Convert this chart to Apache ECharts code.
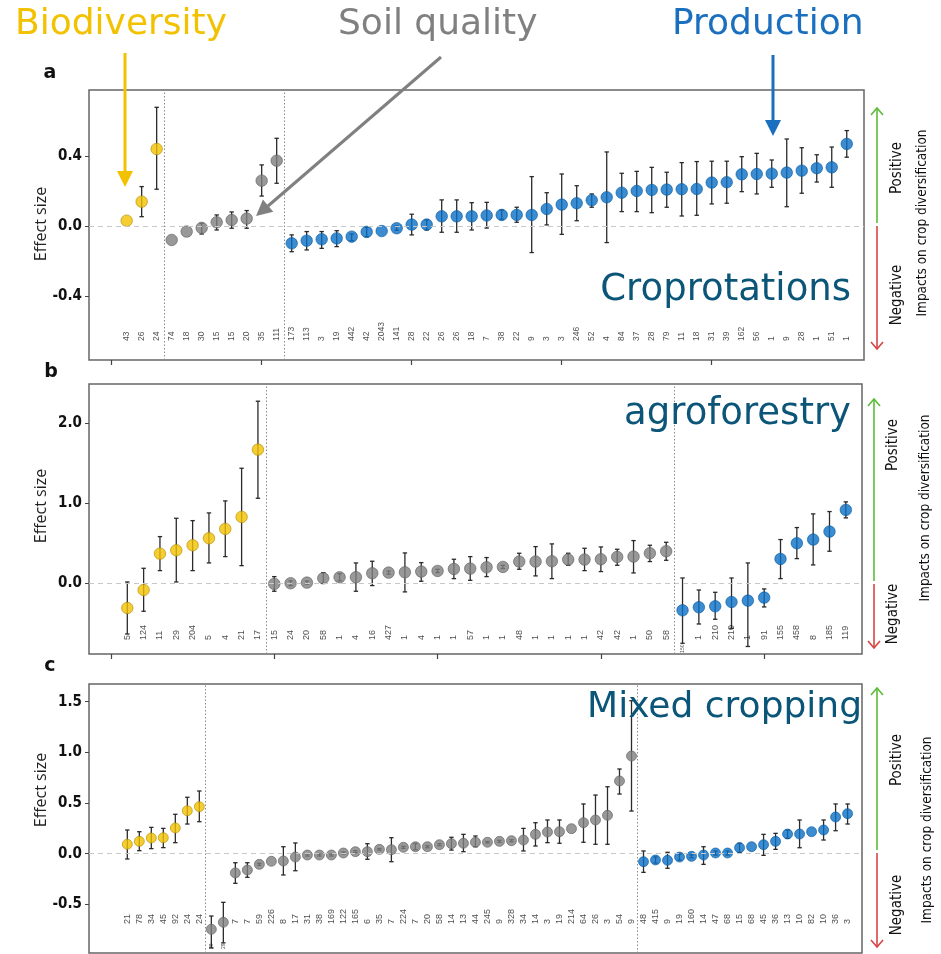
<!DOCTYPE html>
<html><head><meta charset="utf-8">
<script src="https://cdn.jsdelivr.net/npm/echarts@6/dist/echarts.min.js"></script>
<style>html,body{margin:0;padding:0;background:#fff}#c{width:941px;height:954px}</style>
</head><body><div id="c"></div>
<script>
// ---------- Panel a : Crop rotations ----------
const aCounts = [3, 8, 38]; // biodiversity, soil quality, production
const aN = [43,26,24, 74,18,30,15,15,20,35,111,
  173,113,3,19,442,42,2043,141,28,22,26,26,18,7,38,22,9,3,3,246,52,4,84,37,28,79,11,18,31,39,162,56,1,9,28,1,51,1];
const aMean = [0.03,0.139,0.44,
  -0.08,-0.032,-0.011,0.021,0.034,0.042,0.259,0.373,
  -0.099,-0.084,-0.076,-0.071,-0.061,-0.034,-0.029,-0.013,0.008,0.008,0.055,0.055,0.055,0.06,
  0.063,0.063,0.063,0.097,0.122,0.13,0.147,0.164,0.19,0.2,0.206,0.208,0.21,0.211,0.248,0.25,0.295,0.297,0.299,0.305,0.316,0.33,0.335,0.469];
const aLow = [0.03,0.053,0.21,
  -0.08,-0.032,-0.046,-0.023,-0.013,-0.013,0.171,0.244,
  -0.147,-0.137,-0.128,-0.118,-0.084,-0.061,-0.029,-0.025,-0.051,-0.023,-0.036,-0.036,-0.023,-0.012,
  0.038,0.021,-0.152,0.006,-0.048,0.03,0.107,-0.095,0.082,0.082,0.076,0.107,0.057,0.061,0.126,0.13,0.196,0.183,0.221,0.11,0.187,0.251,0.221,0.393];
const aHigh = [0.03,0.225,0.678,
  -0.08,-0.032,0.015,0.063,0.08,0.088,0.349,0.501,
  -0.051,-0.032,-0.032,-0.027,-0.046,-0.008,-0.029,0.0,0.067,0.034,0.149,0.149,0.133,0.135,
  0.091,0.107,0.282,0.19,0.297,0.23,0.183,0.423,0.301,0.312,0.335,0.307,0.362,0.368,0.37,0.37,0.396,0.415,0.377,0.497,0.447,0.407,0.451,0.545];

// ---------- Panel b : Agroforestry ----------
const bCounts = [9, 25, 11];
const bN = [5,124,11,29,204,5,4,21,17,
  15,24,20,58,1,4,16,427,1,4,1,1,57,1,1,48,1,1,1,1,42,42,1,50,58,
  150,1,210,210,1,91,155,458,8,185,119];
const bMean = [-0.309,-0.084,0.37,0.412,0.475,0.562,0.679,0.829,1.67,
  -0.008,0.0,0.008,0.062,0.075,0.075,0.125,0.133,0.137,0.146,0.154,0.179,0.183,0.2,0.204,0.271,0.271,0.275,0.296,0.296,0.3,0.329,0.333,0.375,0.4,
  -0.338,-0.3,-0.288,-0.234,-0.217,-0.179,0.304,0.5,0.546,0.646,0.917];
const bLow = [-0.634,-0.35,0.158,0.016,0.158,0.254,0.333,0.22,1.062,
  -0.1,-0.03,-0.012,0.0,0.03,-0.1,-0.029,0.113,-0.108,0.025,0.134,0.058,0.037,0.083,0.184,0.175,0.092,0.058,0.225,0.158,0.146,0.225,0.129,0.271,0.287,
  -0.75,-0.509,-0.45,-0.563,-0.79,-0.296,0.058,0.308,0.229,0.4,0.817];
const bHigh = [0.016,0.187,0.583,0.812,0.783,0.879,1.029,1.437,2.275,
  0.083,0.03,0.028,0.133,0.12,0.254,0.275,0.153,0.379,0.258,0.174,0.3,0.333,0.321,0.224,0.375,0.458,0.492,0.375,0.437,0.454,0.425,0.533,0.475,0.512,
  0.066,-0.084,-0.113,0.066,0.254,-0.071,0.546,0.696,0.867,0.896,1.017];

// ---------- Panel c : Mixed cropping ----------
const cCounts = [7, 36, 18];
const cN = [21,78,34,45,92,24,24,
  39,29,7,7,59,226,8,17,31,38,169,122,165,6,35,7,224,7,20,58,14,13,44,245,9,328,34,14,3,19,214,64,26,3,54,9,
  48,415,9,19,160,14,47,68,15,68,45,36,13,10,82,10,36,3];
const cMean = [0.093,0.122,0.155,0.158,0.254,0.424,0.464,
  -0.746,-0.677,-0.19,-0.161,-0.105,-0.075,-0.072,-0.033,-0.013,-0.013,-0.013,0.007,0.02,0.02,0.043,0.04,0.063,0.069,0.069,0.089,0.099,0.103,0.113,0.113,0.122,0.128,0.135,0.191,0.214,0.217,0.247,0.306,0.333,0.379,0.718,0.964,
  -0.079,-0.062,-0.065,-0.033,-0.026,-0.013,0.007,0.007,0.059,0.069,0.089,0.122,0.194,0.194,0.217,0.234,0.362,0.395];
const cLow = [-0.052,0.03,0.05,0.06,0.109,0.293,0.316,
  -0.93,-0.88,-0.292,-0.233,-0.115,-0.075,-0.21,-0.168,-0.023,-0.023,-0.023,-0.003,0.01,-0.055,0.035,-0.079,0.053,0.04,0.059,0.079,0.036,0.02,0.069,0.105,0.112,0.118,0.027,0.076,0.109,0.103,0.247,0.113,0.093,0.093,0.589,0.421,
  -0.184,-0.092,-0.144,-0.063,-0.041,-0.105,-0.013,-0.013,0.01,0.069,-0.016,0.043,0.152,0.059,0.217,0.135,0.227,0.293];
const cHigh = [0.234,0.217,0.26,0.25,0.389,0.557,0.619,
  -0.615,-0.48,-0.089,-0.089,-0.095,-0.075,0.069,0.106,-0.003,-0.003,-0.003,0.017,0.03,0.099,0.051,0.158,0.073,0.1,0.079,0.099,0.162,0.191,0.175,0.121,0.132,0.138,0.25,0.306,0.333,0.333,0.247,0.491,0.579,0.661,0.836,1.51,
  0.027,-0.032,0.014,-0.003,-0.011,0.069,0.027,0.027,0.103,0.069,0.191,0.201,0.234,0.333,0.217,0.333,0.491,0.491];

const groupNames = ['Biodiversity', 'Soil quality', 'Production'];
const panelTitles = ['Croprotations', 'agroforestry', 'Mixed cropping'];
const panelLetters = ['a', 'b', 'c'];
const aTicks = [-0.4, 0, 0.4];
const bTicks = [0, 1, 2];
const cTicks = [-0.5, 0, 0.5, 1, 1.5];
const xTickVals = [0, 10, 20, 30, 40];

// ---------- styling ----------
const fill = ['#F2C200', '#7F7F7F', '#0A6FC5'];
const edge = ['#B08A00', '#5E5E5E', '#075A9E'];
const condensed = "'Liberation Sans Narrow','DejaVu Sans Condensed','Roboto Condensed','Liberation Sans',sans-serif";

function groupOf(counts, i) {
  let s = 0;
  for (let g = 0; g < counts.length; g++) { s += counts[g]; if (i < s) return g; }
  return counts.length - 1;
}
function separators(counts) {
  const out = []; let s = 0;
  for (let g = 0; g < counts.length - 1; g++) { s += counts[g]; out.push(s + 0.5); }
  return out;
}

const panels = [
  {counts: aCounts, n: aN, mean: aMean, low: aLow, high: aHigh, ticks: aTicks,
   grid: {left: 89, top: 90, width: 775, height: 270}, xr: [-1.51, 50.15], yr: [-0.766, 0.777],
   sym: 11.5, labY: -0.657, labFs: 8.5, tiny: [], tinyY: 0, xt: xTickVals},
  {counts: bCounts, n: bN, mean: bMean, low: bLow, high: bHigh, ticks: bTicks,
   grid: {left: 89, top: 384, width: 773, height: 270}, xr: [-1.345, 45.99], yr: [-0.884, 2.49],
   sym: 11.5, labY: -0.71, labFs: 9, tiny: [35], tinyY: -0.87, xt: xTickVals},
  {counts: cCounts, n: cN, mean: cMean, low: cLow, high: cHigh, ticks: cTicks,
   grid: {left: 89, top: 684, width: 773, height: 269}, xr: [-2.19, 62.2], yr: [-0.98, 1.675],
   sym: 10, labY: -0.694, labFs: 9, tiny: [8, 9], tinyY: -0.94, xt: []}
];

function errRender(params, api) {
  const x = api.value(0), lo = api.value(1), hi = api.value(2);
  if (hi - lo < 1e-9) return null;
  const p1 = api.coord([x, lo]), p2 = api.coord([x, hi]);
  const cw = 2.2;
  const st = {stroke: '#2a2a2a', lineWidth: 1.3};
  return {type: 'group', children: [
    {type: 'line', shape: {x1: p1[0], y1: p1[1], x2: p2[0], y2: p2[1]}, style: st},
    {type: 'line', shape: {x1: p1[0] - cw, y1: p1[1], x2: p1[0] + cw, y2: p1[1]}, style: st},
    {type: 'line', shape: {x1: p2[0] - cw, y1: p2[1], x2: p2[0] + cw, y2: p2[1]}, style: st}
  ]};
}

const grids = [], xAxes = [], yAxes = [], series = [];
panels.forEach((p, gi) => {
  grids.push(Object.assign({show: true, borderColor: '#666', borderWidth: 1.5, backgroundColor: '#fff'}, p.grid));
  xAxes.push({type: 'value', gridIndex: gi, min: p.xr[0], max: p.xr[1], position: 'bottom',
    axisLine: {show: false, onZero: false}, splitLine: {show: false}, axisLabel: {show: false},
    axisTick: {show: p.xt.length > 0, customValues: p.xt, length: 5, lineStyle: {color: '#444', width: 1.2}}});
  yAxes.push({type: 'value', gridIndex: gi, min: p.yr[0], max: p.yr[1], position: 'left',
    axisLine: {show: false, onZero: false}, splitLine: {show: false},
    axisTick: {show: true, customValues: p.ticks, length: 4, lineStyle: {color: '#444'}},
    axisLabel: {customValues: p.ticks, formatter: v => v.toFixed(1), fontFamily: condensed, fontWeight: 'bold', fontSize: 15, color: '#111', margin: 7}});

  const seps = separators(p.counts);
  // error bars
  series.push({type: 'custom', xAxisIndex: gi, yAxisIndex: gi, renderItem: errRender, z: 3, silent: true,
    data: p.mean.map((m, i) => [i + 1, p.low[i], p.high[i]]),
    markLine: {silent: true, symbol: 'none', label: {show: false}, animation: false,
      data: [
        {yAxis: 0, lineStyle: {color: '#c8c8c8', type: [5, 4], width: 1.2}},
        ...seps.map(s => ({xAxis: s, lineStyle: {color: '#8a8a8a', type: [1.5, 2], width: 1}}))
      ]}});
  // points
  series.push({type: 'scatter', xAxisIndex: gi, yAxisIndex: gi, z: 4, symbolSize: p.sym, silent: true,
    data: p.mean.map((m, i) => {
      const g = groupOf(p.counts, i);
      return {value: [i + 1, m], itemStyle: {color: fill[g], borderColor: edge[g], borderWidth: 0.8}};
    })});
  // sample size labels
  series.push({type: 'scatter', xAxisIndex: gi, yAxisIndex: gi, z: 5, symbolSize: 0.1, silent: true,
    itemStyle: {color: 'rgba(0,0,0,0)'},
    data: p.n.map((t, i) => {
      const tiny = p.tiny.includes(i + 1);
      return {value: [i + 1, tiny ? p.tinyY : p.labY],
        label: {show: true, formatter: String(t), position: 'inside', rotate: 90, align: 'left', verticalAlign: 'middle',
          fontSize: tiny ? 5 : p.labFs, color: '#1a1a1a', fontFamily: "'Liberation Sans',Arial,sans-serif"}};
    })});
});

// ---------- decorations ----------
const g = [];
function txt(x, y, text, font, color, align, valign, rot) {
  g.push({type: 'text', x: x, y: y, rotation: rot || 0, z: 50,
    style: {text: text, font: font, fill: color, align: align || 'left', textAlign: align || 'left',
      verticalAlign: valign || 'middle', textVerticalAlign: valign || 'middle'}});
}
function ln(x1, y1, x2, y2, color, w) {
  g.push({type: 'line', z: 50, shape: {x1, y1, x2, y2}, style: {stroke: color, lineWidth: w}});
}
function poly(pts, color) {
  g.push({type: 'polygon', z: 50, shape: {points: pts}, style: {fill: color}});
}
function chevron(x, y, dir, color) { // dir -1 up, 1 down
  g.push({type: 'polyline', z: 50, shape: {points: [[x - 6, y - dir * 7], [x, y], [x + 6, y - dir * 7]]},
    style: {stroke: color, lineWidth: 1.6, fill: null}});
}

// group annotations
txt(15, 25, groupNames[0], "36px 'DejaVu Sans'", '#F2C200', 'left', 'middle');
txt(338, 25, groupNames[1], "36px 'DejaVu Sans'", '#808080', 'left', 'middle');
txt(672, 25, groupNames[2], "36px 'DejaVu Sans'", '#1A6FBF', 'left', 'middle');
ln(125, 53, 125, 174, '#F2C200', 3);
poly([[117, 171], [133, 171], [125, 187]], '#F2C200');
ln(441, 57, 268, 206, '#808080', 3);
poly([[256, 216], [273.3, 211.7], [262.9, 199.5]], '#808080');
ln(773, 55, 773, 122, '#1A6FBF', 3);
poly([[765, 120], [781, 120], [773, 136]], '#1A6FBF');

// panel letters
txt(50, 73, panelLetters[0], "bold 19px 'DejaVu Sans'", '#111', 'center', 'middle');
txt(51, 372, panelLetters[1], "bold 19px 'DejaVu Sans'", '#111', 'center', 'middle');
txt(50, 666, panelLetters[2], "bold 19px 'DejaVu Sans'", '#111', 'center', 'middle');

// y axis titles
[[41, 224], [41, 506], [41, 790]].forEach(([x, y]) => txt(x, y, 'Effect size', "16px 'Open Sans'", '#222', 'center', 'middle', Math.PI / 2));

// panel titles
txt(851, 290, panelTitles[0], "37px 'DejaVu Sans'", '#0B5578', 'right', 'middle');
txt(851, 414, panelTitles[1], "37px 'DejaVu Sans'", '#0B5578', 'right', 'middle');
txt(862, 708, panelTitles[2], "36px 'DejaVu Sans'", '#0B5578', 'right', 'middle');

// impact arrows
const impacts = [
  {x: 877, gTop: 108, mid: 224, rBot: 349, px: 897, py: 168, ny: 295, ix: 922, iy: 223},
  {x: 874, gTop: 399, mid: 582, rBot: 648, px: 893, py: 445, ny: 614, ix: 925, iy: 508},
  {x: 877, gTop: 688, mid: 851, rBot: 947, px: 897, py: 760, ny: 905, ix: 927, iy: 830}
];
impacts.forEach(d => {
  ln(d.x, d.gTop, d.x, d.mid - 1, '#5DBB3A', 1.6);
  chevron(d.x, d.gTop, -1, '#5DBB3A');
  ln(d.x, d.mid + 2, d.x, d.rBot, '#D64545', 1.6);
  chevron(d.x, d.rBot, 1, '#D64545');
  txt(d.px, d.py, 'Positive', '15px ' + condensed, '#111', 'center', 'middle', Math.PI / 2);
  txt(d.px, d.ny, 'Negative', '15px ' + condensed, '#111', 'center', 'middle', Math.PI / 2);
  txt(d.ix, d.iy, 'Impacts on crop diversification', '13.5px ' + condensed, '#111', 'center', 'middle', Math.PI / 2);
});

const chart = echarts.init(document.getElementById('c'), null, {renderer: 'canvas'});
chart.setOption({
  animation: false,
  backgroundColor: '#fff',
  grid: grids, xAxis: xAxes, yAxis: yAxes, series: series,
  graphic: {elements: g}
});
</script></body></html>
